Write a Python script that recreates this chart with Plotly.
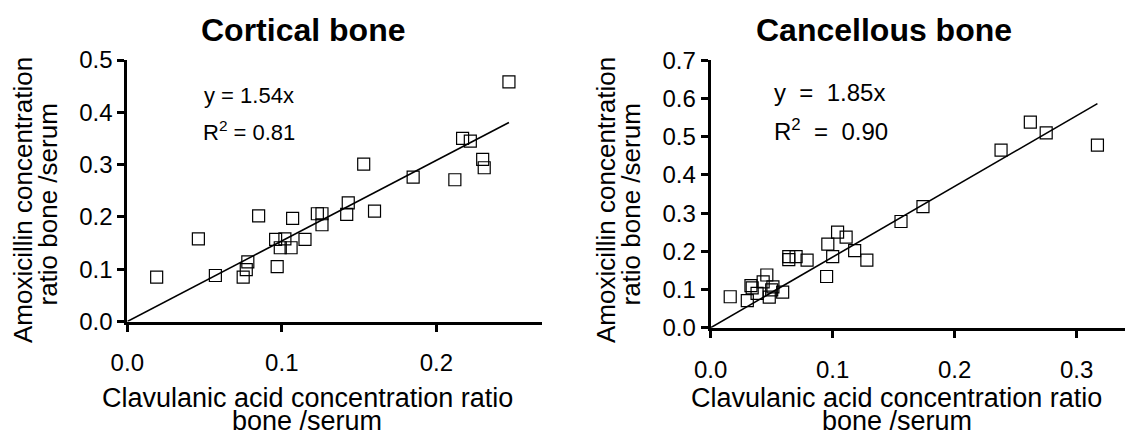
import plotly.graph_objects as go

# Bone/serum concentration ratios (clavulanic acid on x, amoxicillin on y)
cortical_x = [0.019, 0.046, 0.057, 0.075, 0.077, 0.078, 0.085, 0.097, 0.096, 0.099,
              0.102, 0.106, 0.107, 0.115, 0.123, 0.126, 0.126, 0.143, 0.142, 0.153,
              0.160, 0.185, 0.212, 0.217, 0.222, 0.230, 0.231, 0.247]
cortical_y = [0.085, 0.158, 0.088, 0.085, 0.099, 0.114, 0.202, 0.105, 0.157, 0.141,
              0.158, 0.141, 0.197, 0.157, 0.206, 0.206, 0.185, 0.227, 0.205, 0.301,
              0.211, 0.276, 0.271, 0.350, 0.345, 0.310, 0.294, 0.458]

cancellous_x = [0.016, 0.030, 0.033, 0.034, 0.038, 0.043, 0.046, 0.048, 0.050, 0.051,
                0.059, 0.064, 0.064, 0.070, 0.079, 0.095, 0.096, 0.100, 0.104, 0.111,
                0.118, 0.128, 0.156, 0.174, 0.238, 0.262, 0.275, 0.317]
cancellous_y = [0.081, 0.071, 0.110, 0.104, 0.090, 0.120, 0.138, 0.080, 0.099, 0.107,
                0.093, 0.186, 0.178, 0.186, 0.177, 0.134, 0.219, 0.186, 0.250, 0.237,
                0.202, 0.177, 0.278, 0.317, 0.465, 0.538, 0.510, 0.478]

# Regression through the origin
slopes = [1.54, 1.85]
r_squared = [0.81, 0.90]
panel_titles = ["Cortical bone", "Cancellous bone"]
x_ticks = [[0.0, 0.1, 0.2], [0.0, 0.1, 0.2, 0.3]]
y_ticks = [[0.0, 0.1, 0.2, 0.3, 0.4, 0.5], [0.0, 0.1, 0.2, 0.3, 0.4, 0.5, 0.6, 0.7]]
x_title = ["Clavulanic acid concentration ratio", "bone /serum"]
y_title = ["Amoxicillin concentration", "ratio bone /serum"]

FONT = "Arial, Liberation Sans, sans-serif"
W, H = 1125, 435

fig = go.Figure()

panels = [
    dict(x=cortical_x, y=cortical_y, xa="x", ya="y"),
    dict(x=cancellous_x, y=cancellous_y, xa="x2", ya="y2"),
]

for i, p in enumerate(panels):
    fig.add_trace(go.Scatter(
        x=p["x"], y=p["y"], mode="markers", xaxis=p["xa"], yaxis=p["ya"],
        marker=dict(symbol="square-open", size=12, color="black",
                    line=dict(width=1.2, color="black")),
        showlegend=False, cliponaxis=False,
    ))
    xmax = max(p["x"])
    fig.add_trace(go.Scatter(
        x=[0, xmax], y=[0, slopes[i] * xmax], mode="lines",
        xaxis=p["xa"], yaxis=p["ya"],
        line=dict(color="black", width=1.6), showlegend=False,
    ))

axis_common = dict(
    showline=True, linewidth=3, linecolor="black", showgrid=False, zeroline=False,
    ticks="outside", ticklen=7, tickwidth=3, tickcolor="black", automargin=False,
    tickfont=dict(family=FONT, size=24, color="black"),
)

# pixel geometry of the two panels
px_left = [(127.3, 541.7), (710.7, 1125)]
py_span = [(60, 321.5), (60.3, 327.7)]
x_ranges = [[0, 0.2682], [0, 0.3396]]
y_ranges = [[0, 0.5], [0, 0.7]]

for i in range(2):
    sx = "" if i == 0 else "2"
    x0, x1 = px_left[i]
    yt, yb = py_span[i]
    fig.update_layout(**{
        f"xaxis{sx}": dict(
            axis_common, domain=[x0 / W, x1 / W], range=x_ranges[i],
            tickvals=x_ticks[i], ticktext=[f"{v:.1f}" for v in x_ticks[i]],
            anchor=f"y{sx}", ticklabelstandoff=11,
        ),
        f"yaxis{sx}": dict(
            axis_common, domain=[1 - yb / H, 1 - yt / H], range=y_ranges[i],
            tickvals=y_ticks[i], ticktext=[f"{v:.1f}" for v in y_ticks[i]],
            anchor=f"x{sx}",
        ),
    })

annotations = []

def pxa(x, y, text, size, bold=False, angle=0, xanchor="center", yanchor="middle"):
    annotations.append(dict(
        x=x / W, y=1 - y / H, xref="paper", yref="paper", text=text,
        showarrow=False, textangle=angle, xanchor=xanchor, yanchor=yanchor,
        font=dict(family=FONT, size=size, color="black",
                  weight="bold" if bold else "normal"),
    ))

# panel titles
pxa(303, 30, panel_titles[0], 32, bold=True)
pxa(884, 30, panel_titles[1], 32, bold=True)

# x-axis titles (two lines each)
for cx in (307, 896.5):
    pxa(cx, 398, x_title[0], 27)
    pxa(cx, 421, x_title[1], 27)

# y-axis titles (two lines each, rotated)
for lx in (23, 606):
    pxa(lx, 200, y_title[0], 26, angle=-90)
    pxa(lx + 24.5, 205, y_title[1], 26, angle=-90)

# regression equations
pxa(201.5, 95, f"y = {slopes[0]:.2f}x", 22, xanchor="left")
pxa(201, 131, f"R<sup>2</sup> = {r_squared[0]:.2f}", 22, xanchor="left")
pxa(771.5, 92, f"y \u00a0= \u00a0{slopes[1]:.2f}x", 24, xanchor="left")
pxa(771.5, 130, f"R<sup>2</sup> \u00a0= \u00a0{r_squared[1]:.2f}", 24, xanchor="left")

fig.update_layout(
    template="none",
    width=W, height=H, margin=dict(l=0, r=0, t=0, b=0, pad=0, autoexpand=False),
    paper_bgcolor="white", plot_bgcolor="white",
    annotations=annotations, showlegend=False,
)

fig.write_html("out.html", config={"displayModeBar": False},
               post_script="document.body.style.margin='0';document.body.style.overflow='hidden';")
